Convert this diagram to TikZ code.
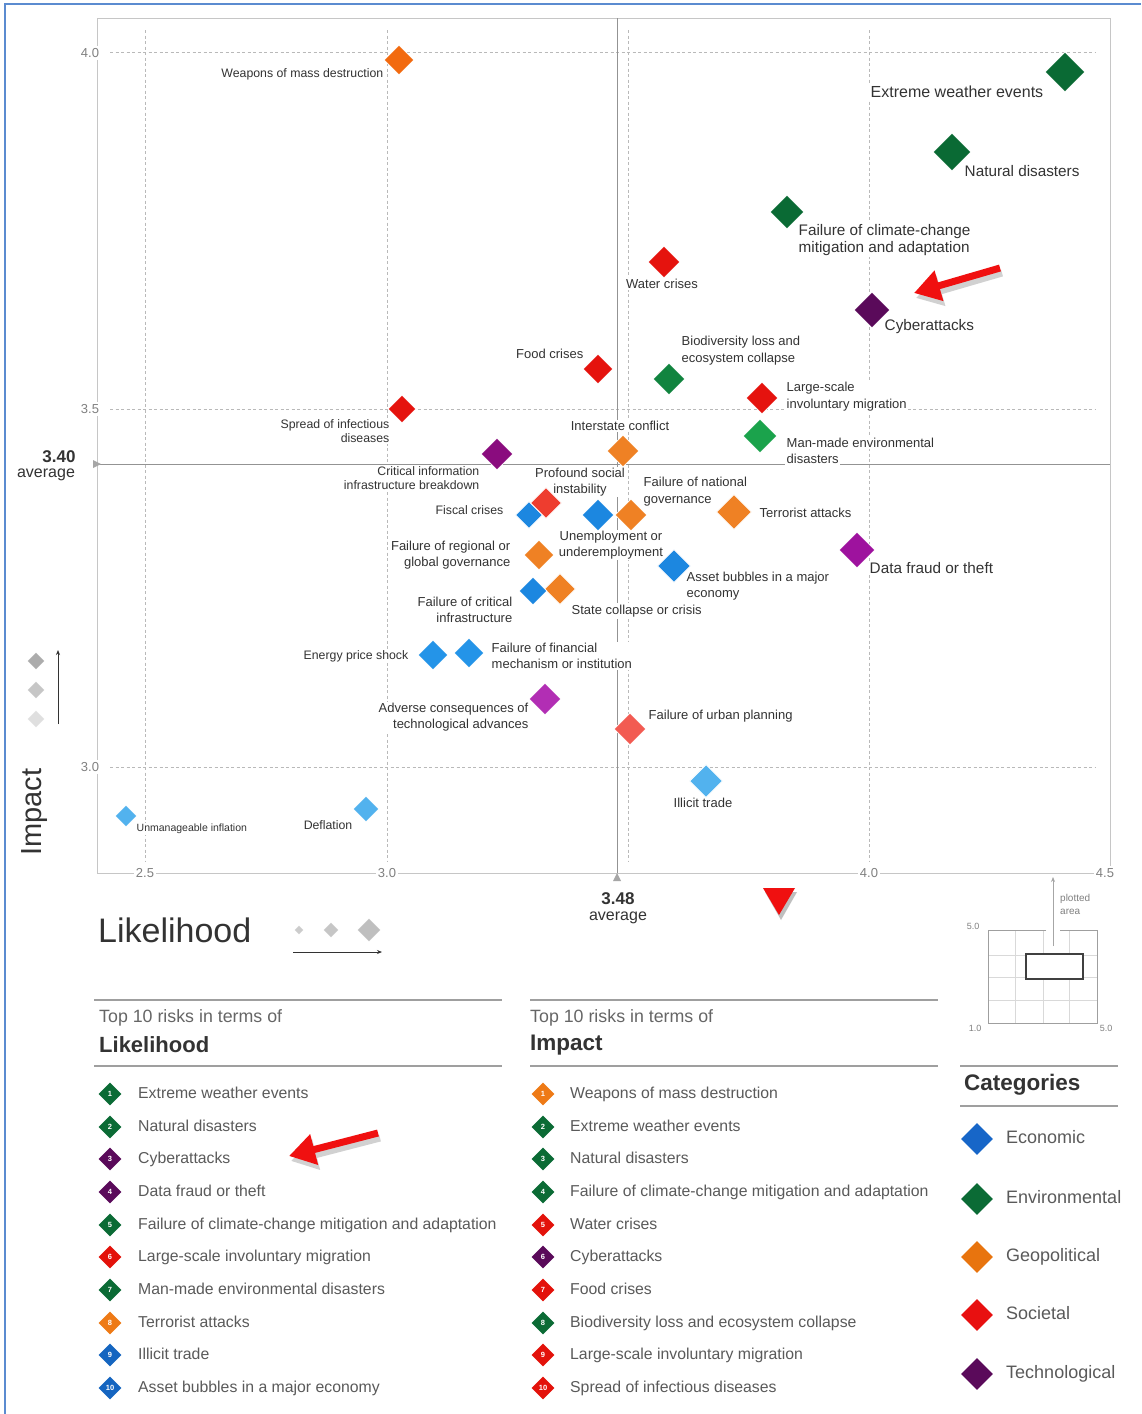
\documentclass[tikz,border=0pt]{standalone}
\usepackage{fontspec}
\setmainfont{Liberation Sans}
\usetikzlibrary{shapes.geometric,arrows.meta}
\definecolor{bordblue}{HTML}{5B8BD0}
\definecolor{txtD}{HTML}{333333}
\definecolor{txtL}{HTML}{5A5A5A}
\definecolor{txtH}{HTML}{666666}
\definecolor{geoW}{HTML}{F26A0F}
\definecolor{geoO}{HTML}{EF8124}
\definecolor{envD}{HTML}{0A6A34}
\definecolor{envM}{HTML}{11843F}
\definecolor{envL}{HTML}{1BA34C}
\definecolor{socR}{HTML}{E5130E}
\definecolor{socP}{HTML}{EE3D2F}
\definecolor{socU}{HTML}{F25B52}
\definecolor{techD}{HTML}{5A0A5A}
\definecolor{techM}{HTML}{8A0C7E}
\definecolor{techF}{HTML}{9E129E}
\definecolor{techA}{HTML}{B22EB4}
\definecolor{ecoB}{HTML}{1C87E0}
\definecolor{ecoB2}{HTML}{2494E8}
\definecolor{ecoL}{HTML}{52B2EE}
\definecolor{lgreen}{HTML}{0B6B35}
\definecolor{lpurple}{HTML}{5A0A5A}
\definecolor{lred}{HTML}{E3120B}
\definecolor{lorange}{HTML}{EE7A16}
\definecolor{lblue}{HTML}{1565C0}
\definecolor{catB}{HTML}{1766C8}
\definecolor{catO}{HTML}{E8740E}
\definecolor{catR}{HTML}{E81010}
\definecolor{redmark}{HTML}{F01010}
\begin{document}
\begin{tikzpicture}[x=1pt,y=-1pt,
  dia/.style={diamond,aspect=1,inner sep=0pt,fill=#1,draw=white,line width=0.8pt},
  lbl/.style={font=\fontsize{13}{15.5}\selectfont,text=txtD,inner sep=1.5pt,fill=white},
  lblb/.style={lbl,font=\fontsize{15.3}{17}\selectfont},
  lbls/.style={lbl,font=\fontsize{12.3}{14}\selectfont},
  gridln/.style={gray!55,line width=0.6pt,dash pattern=on 3pt off 2.5pt},
  frameln/.style={gray!45,line width=0.8pt},
  avgln/.style={gray!85,line width=0.9pt},
  ticklbl/.style={font=\fontsize{13}{15}\selectfont,text=gray,fill=white,inner sep=2pt},
  numdia/.style={diamond,aspect=1,inner sep=0pt,minimum size=23pt,fill=#1,text=white,font=\fontsize{7.5}{8}\selectfont\bfseries},
  itm/.style={anchor=west,font=\fontsize{15.8}{17}\selectfont,text=txtL,inner sep=0pt,text height=11.5pt,text depth=3.5pt},
  cathead/.style={anchor=west,inner sep=0pt,font=\bfseries\fontsize{22.5}{24}\selectfont,text=txtD},
  catdia/.style={diamond,aspect=1,inner sep=0pt,minimum size=32pt,fill=#1},
  ruleln/.style={gray!75,line width=1.2pt},
  bigarrow/.style={line width=7pt,-{Triangle[length=26pt,width=30pt]}}]
\useasboundingbox (0,0) rectangle (1141,1414);
\fill[white] (0,0) rectangle (1141,1414);
\draw[bordblue,line width=1.5pt] (5,1414) -- (5,4) -- (1141,4);
\draw[gridln] (110,52) -- (1095,52);
\draw[gridln] (110,409) -- (1095,409);
\draw[gridln] (110,767) -- (1095,767);
\draw[gridln] (145,30) -- (145,862);
\draw[gridln] (387,30) -- (387,862);
\draw[gridln] (628,30) -- (628,862);
\draw[gridln] (869,30) -- (869,862);
\draw[frameln] (97,873) -- (97,18) -- (1110,18) -- (1110,873) -- cycle;
\draw[avgln] (617,18) -- (617,873);
\draw[avgln] (97,464) -- (1110,464);
\fill[gray!70] (93,460) -- (101,464) -- (93,468) -- cycle;
\fill[gray!70] (613,881) -- (617,873) -- (621,881) -- cycle;
\node[ticklbl] (y40) at (90,53) {4.0};
\node[ticklbl] (y35) at (90,409) {3.5};
\node[ticklbl] (y30) at (90,767) {3.0};
\node[ticklbl] (x25) at (145,873) {2.5};
\node[ticklbl] (x30) at (387,873) {3.0};
\node[ticklbl] (x40) at (869,873) {4.0};
\node[ticklbl] (x45) at (1105,873) {4.5};
\node[font=\bfseries\fontsize{17}{18}\selectfont,text=txtD] (avgy) at (59,457) {3.40};
\node[font=\fontsize{16}{17}\selectfont,text=txtD] (avgyt) at (46,475) {average};
\node[font=\bfseries\fontsize{17}{18}\selectfont,text=txtD] (avgx) at (618,899) {3.48};
\node[font=\fontsize{16}{17}\selectfont,text=txtD] (avgxt) at (618,918) {average};
\node[lbls,anchor=east] (wmdl) at (385,74) {Weapons of mass destruction};
\node[lblb,anchor=west,font=\fontsize{16}{18}\selectfont] (xweathl) at (869,92) {Extreme weather events};
\node[lblb,anchor=west] (natdisl) at (963,171) {Natural disasters};
\node[lblb,anchor=west,align=left] (climatel) at (797,240) {Failure of climate-change\\mitigation and adaptation};
\node[lbl] (waterl) at (662,284) {Water crises};
\node[lblb,anchor=west] (cyberl) at (883,327) {Cyberattacks};
\node[lbl,anchor=east] (foodl) at (585,354) {Food crises};
\node[lbl,anchor=west,align=left] (biodivl) at (680,351) {Biodiversity loss and\\[1.5pt]ecosystem collapse};
\node[lbl,anchor=west,align=left] (migrl) at (785,397) {Large-scale\\[1.5pt]involuntary migration};
\node[lbls,anchor=east,align=right] (infectl) at (391,431) {Spread of infectious\\diseases};
\node[lbl,anchor=west] (manmadel) at (785,443) {Man-made environmental};
\node[lbl,anchor=west] (manmadel2) at (785,459) {disasters};
\node[lbl] (interl) at (620,426) {Interstate conflict};
\node[lbls,anchor=east,align=right] (critinfol) at (481,478) {Critical information\\infrastructure breakdown};
\node[lbl,align=center] (sociall) at (580,482) {Profound social\\instability};
\node[lbls,anchor=east] (fiscall) at (505,510) {Fiscal crises};
\node[lbl,align=center] (unempl) at (611,545) {Unemployment or\\underemployment};
\node[lbl,anchor=west,align=left] (natgovl) at (642,492) {Failure of national\\[1.5pt]governance};
\node[lbl,anchor=west] (terrorl) at (758,513) {Terrorist attacks};
\node[lblb,anchor=west] (fraudl) at (868,568) {Data fraud or theft};
\node[lbl,anchor=east,align=right] (reggovl) at (512,555) {Failure of regional or\\global governance};
\node[lbl,anchor=west,align=left] (bubblesl) at (685,586) {Asset bubbles in a major\\economy};
\node[lbl,anchor=east,align=right] (critinfral) at (514,610) {Failure of critical\\infrastructure};
\node[lbl,anchor=west] (statecoll) at (570,611) {State collapse or crisis};
\node[lbls,anchor=east] (energyl) at (410,656) {Energy price shock};
\node[lbl,anchor=west,align=left] (finl) at (490,656) {Failure of financial\\mechanism or institution};
\node[lbl,anchor=east,align=right] (adversel) at (530,717) {Adverse consequences of\\technological advances};
\node[lbl,anchor=west] (urbanl) at (647,716) {Failure of urban planning};
\node[lbl] (illicitl) at (703,803) {Illicit trade};
\node[lbls,anchor=east] (deflationl) at (354,825) {Deflation};
\node[lbl,anchor=west,font=\fontsize{10.5}{12}\selectfont] (inflationl) at (135,829) {Unmanageable inflation};
\node[dia=geoW,minimum size=30pt] (wmd) at (399,60) {};
\node[dia=envD,minimum size=40pt] (xweath) at (1065,72) {};
\node[dia=envD,minimum size=38pt] (natdis) at (952,152) {};
\node[dia=envD,minimum size=34pt] (climate) at (787,212) {};
\node[dia=socR,minimum size=32pt] (water) at (664,262) {};
\node[dia=techD,minimum size=36pt] (cyber) at (872,310) {};
\node[dia=socR,minimum size=30pt] (food) at (598,369) {};
\node[dia=envM,minimum size=32pt] (biodiv) at (669,379) {};
\node[dia=socR,minimum size=32pt] (migr) at (762,398) {};
\node[dia=socR,minimum size=28pt] (infect) at (402,409) {};
\node[dia=envL,minimum size=34pt] (manmade) at (760,436) {};
\node[dia=geoO,minimum size=32pt] (inter) at (623,451) {};
\node[dia=techM,minimum size=32pt] (critinfo) at (497,454) {};
\node[dia=ecoB,minimum size=27pt] (fiscal) at (529,515) {};
\node[dia=socP,minimum size=31pt] (social) at (546,503) {};
\node[dia=ecoB,minimum size=32pt] (unemp) at (598,515) {};
\node[dia=geoO,minimum size=32pt] (natgov) at (631,515) {};
\node[dia=geoO,minimum size=35pt] (terror) at (734,512) {};
\node[dia=techF,minimum size=36pt] (fraud) at (857,550) {};
\node[dia=geoO,minimum size=30pt] (reggov) at (539,555) {};
\node[dia=ecoB,minimum size=33pt] (bubbles) at (674,566) {};
\node[dia=geoO,minimum size=31pt] (statecol) at (560,589) {};
\node[dia=ecoB,minimum size=28pt] (critinfra) at (533,591) {};
\node[dia=ecoB2,minimum size=30pt] (energy) at (433,655) {};
\node[dia=ecoB2,minimum size=30pt] (fin) at (469,653) {};
\node[dia=techA,minimum size=32pt] (adverse) at (545,699) {};
\node[dia=socU,minimum size=32pt] (urban) at (630,729) {};
\node[dia=ecoL,minimum size=33pt] (illicit) at (706,781) {};
\node[dia=ecoL,minimum size=26pt] (deflation) at (366,809) {};
\node[dia=ecoL,minimum size=22pt] (inflation) at (126,816) {};
\node[rotate=90,font=\fontsize{29}{31}\selectfont,text=txtD] (impaxis) at (35,812) {Impact};
\node[dia=gray!65,minimum size=18pt] (is3) at (36,661) {};
\node[dia=gray!45,minimum size=18pt] (is2) at (36,690) {};
\node[dia=gray!25,minimum size=18pt] (is1) at (36,719) {};
\coordinate (ia1) at (58,724);
\coordinate (ia2) at (58,650);
\draw[gray!40!black,line width=0.8pt,-{Stealth[length=5pt,width=4pt]}] (ia1) -- (ia2);
\node[anchor=west,inner sep=0pt,font=\fontsize{34}{36}\selectfont,text=txtD] (likeaxis) at (98,930) {Likelihood};
\node[dia=gray!40,minimum size=10pt] (ls1) at (299,930) {};
\node[dia=gray!45,minimum size=16pt] (ls2) at (331,930) {};
\node[dia=gray!50,minimum size=24pt] (ls3) at (369,930) {};
\coordinate (la1) at (293,952);
\coordinate (la2) at (382,952);
\draw[gray!40!black,line width=0.8pt,-{Stealth[length=5pt,width=4pt]}] (la1) -- (la2);
\draw[gray!30,line width=0.6pt] (1015,930) -- (1015,1023);
\draw[gray!30,line width=0.6pt] (1043,930) -- (1043,1023);
\draw[gray!30,line width=0.6pt] (1069,930) -- (1069,1023);
\draw[gray!30,line width=0.6pt] (988,955) -- (1097,955);
\draw[gray!30,line width=0.6pt] (988,977) -- (1097,977);
\draw[gray!30,line width=0.6pt] (988,1000) -- (1097,1000);
\draw[gray!75,line width=0.9pt] (1046,930) -- (988,930) -- (988,1023) -- (1097,1023) -- (1097,930) -- (1060,930);
\draw[gray!50!black,line width=1.1pt,fill=white] (1026,954) rectangle (1083,979);
\coordinate (pa1) at (1053,946);
\coordinate (pa2) at (1053,877);
\draw[gray!70,line width=0.7pt,-{Stealth[length=5pt,width=4pt]}] (pa1) -- (pa2);
\node[anchor=west,align=left,inner sep=0pt,font=\fontsize{10}{13}\selectfont,text=gray] (plotl) at (1060,904) {plotted\\area};
\node[font=\fontsize{9}{10}\selectfont,text=gray] (in50y) at (973,926) {5.0};
\node[font=\fontsize{9}{10}\selectfont,text=gray] (in10) at (975,1028) {1.0};
\node[font=\fontsize{9}{10}\selectfont,text=gray] (in50x) at (1106,1028) {5.0};
\fill[black!25] (765,892) -- (797,892) -- (781,920) -- cycle;
\fill[redmark] (763,888) -- (795,888) -- (779,915) -- cycle;
\draw[ruleln] (94,1000) -- (502,1000);
\draw[ruleln] (94,1066) -- (502,1066);
\node[anchor=west,inner sep=0pt,font=\fontsize{17.8}{19}\selectfont,text=txtH] (lkhead) at (99,1018) {Top 10 risks in terms of};
\node[cathead,font=\bfseries\fontsize{22}{24}\selectfont] (lktitle) at (99,1045) {Likelihood};
\node[numdia=lgreen] (lk1) at (110,1094) {1};
\node[itm] (lk1t) at (138,1094) {Extreme weather events};
\node[numdia=lgreen] (lk2) at (110,1127) {2};
\node[itm] (lk2t) at (138,1127) {Natural disasters};
\node[numdia=lpurple] (lk3) at (110,1159) {3};
\node[itm] (lk3t) at (138,1159) {Cyberattacks};
\node[numdia=lpurple] (lk4) at (110,1192) {4};
\node[itm] (lk4t) at (138,1192) {Data fraud or theft};
\node[numdia=lgreen] (lk5) at (110,1225) {5};
\node[itm] (lk5t) at (138,1225) {Failure of climate-change mitigation and adaptation};
\node[numdia=lred] (lk6) at (110,1257) {6};
\node[itm] (lk6t) at (138,1257) {Large-scale involuntary migration};
\node[numdia=lgreen] (lk7) at (110,1290) {7};
\node[itm] (lk7t) at (138,1290) {Man-made environmental disasters};
\node[numdia=lorange] (lk8) at (110,1323) {8};
\node[itm] (lk8t) at (138,1323) {Terrorist attacks};
\node[numdia=lblue] (lk9) at (110,1355) {9};
\node[itm] (lk9t) at (138,1355) {Illicit trade};
\node[numdia=lblue] (lk10) at (110,1388) {10};
\node[itm] (lk10t) at (138,1388) {Asset bubbles in a major economy};
\draw[ruleln] (530,1000) -- (938,1000);
\draw[ruleln] (530,1066) -- (938,1066);
\node[anchor=west,inner sep=0pt,font=\fontsize{17.8}{19}\selectfont,text=txtH] (imhead) at (530,1018) {Top 10 risks in terms of};
\node[cathead] (imtitle) at (530,1045) {Impact};
\node[numdia=lorange] (im1) at (543,1094) {1};
\node[itm] (im1t) at (570,1094) {Weapons of mass destruction};
\node[numdia=lgreen] (im2) at (543,1127) {2};
\node[itm] (im2t) at (570,1127) {Extreme weather events};
\node[numdia=lgreen] (im3) at (543,1159) {3};
\node[itm] (im3t) at (570,1159) {Natural disasters};
\node[numdia=lgreen] (im4) at (543,1192) {4};
\node[itm] (im4t) at (570,1192) {Failure of climate-change mitigation and adaptation};
\node[numdia=lred] (im5) at (543,1225) {5};
\node[itm] (im5t) at (570,1225) {Water crises};
\node[numdia=lpurple] (im6) at (543,1257) {6};
\node[itm] (im6t) at (570,1257) {Cyberattacks};
\node[numdia=lred] (im7) at (543,1290) {7};
\node[itm] (im7t) at (570,1290) {Food crises};
\node[numdia=lgreen] (im8) at (543,1323) {8};
\node[itm] (im8t) at (570,1323) {Biodiversity loss and ecosystem collapse};
\node[numdia=lred] (im9) at (543,1355) {9};
\node[itm] (im9t) at (570,1355) {Large-scale involuntary migration};
\node[numdia=lred] (im10) at (543,1388) {10};
\node[itm] (im10t) at (570,1388) {Spread of infectious diseases};
\draw[ruleln] (960,1066) -- (1118,1066);
\draw[ruleln] (960,1106) -- (1118,1106);
\node[cathead] (cattitle) at (964,1085) {Categories};
\node[catdia=catB] (cat1) at (977,1139) {};
\node[itm,font=\fontsize{18}{20}\selectfont] (cat1t) at (1006,1139) {Economic};
\node[catdia=lgreen] (cat2) at (977,1199) {};
\node[itm,font=\fontsize{18}{20}\selectfont] (cat2t) at (1006,1199) {Environmental};
\node[catdia=catO] (cat3) at (977,1257) {};
\node[itm,font=\fontsize{18}{20}\selectfont] (cat3t) at (1006,1257) {Geopolitical};
\node[catdia=catR] (cat4) at (977,1315) {};
\node[itm,font=\fontsize{18}{20}\selectfont] (cat4t) at (1006,1315) {Societal};
\node[catdia=lpurple] (cat5) at (977,1374) {};
\node[itm,font=\fontsize{18}{20}\selectfont] (cat5t) at (1006,1374) {Technological};
\coordinate (ar1s) at (1000,268);
\coordinate (ar1e) at (914,293);
\coordinate (ar1ss) at (1002,273);
\coordinate (ar1se) at (916,298);
\draw[bigarrow,black!18] (ar1ss) -- (ar1se);
\draw[bigarrow,redmark] (ar1s) -- (ar1e);
\coordinate (ar2s) at (378,1133);
\coordinate (ar2e) at (289,1156);
\coordinate (ar2ss) at (380,1138);
\coordinate (ar2se) at (291,1161);
\draw[bigarrow,black!18] (ar2ss) -- (ar2se);
\draw[bigarrow,redmark] (ar2s) -- (ar2e);
\end{tikzpicture}
\end{document}
